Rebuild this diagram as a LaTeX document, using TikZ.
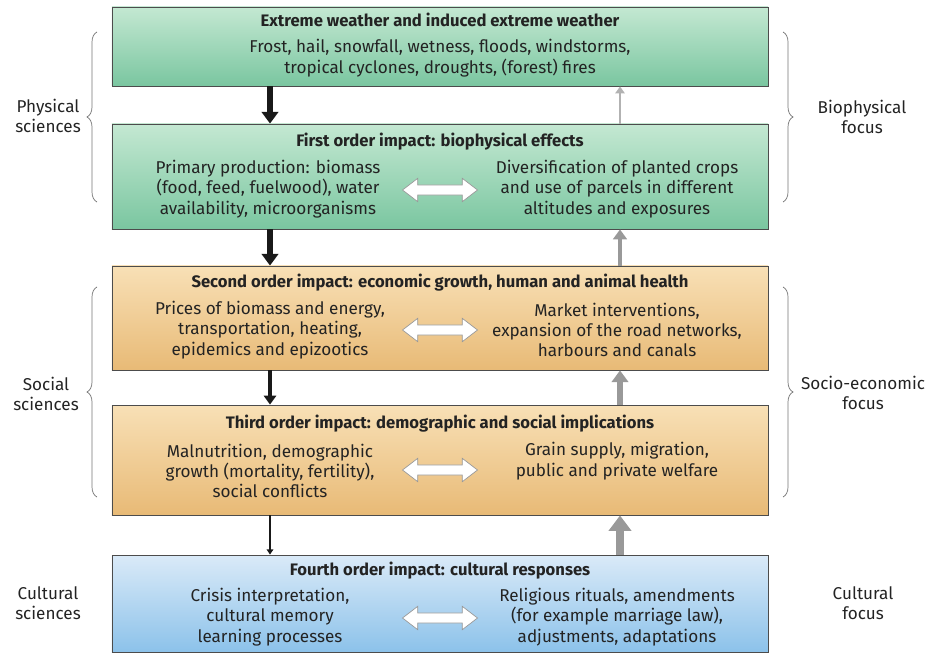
\documentclass[tikz,border=0pt]{standalone}
\usepackage{fontspec}
\setmainfont{Fira Sans}
\usetikzlibrary{arrows.meta,shapes.arrows,decorations.pathreplacing,positioning}

\definecolor{greentop}{RGB}{196,232,210}
\definecolor{greenbot}{RGB}{122,198,160}
\definecolor{orangetop}{RGB}{248,224,182}
\definecolor{orangebot}{RGB}{232,186,118}
\definecolor{bluetop}{RGB}{218,234,248}
\definecolor{bluebot}{RGB}{140,194,234}
\definecolor{textcol}{RGB}{35,35,35}

\tikzset{
  box/.style={draw=black!70, line width=0.7pt, minimum width=19.68cm, inner sep=0pt},
  greenbox/.style={box, top color=greentop, bottom color=greenbot},
  orangebox/.style={box, top color=orangetop, bottom color=orangebot},
  bluebox/.style={box, top color=bluetop, bottom color=bluebot},
  title/.style={font=\fontsize{14.2}{16}\selectfont\bfseries, text=textcol},
  body/.style={align=center, text=textcol, font=\fontsize{14.6}{17.4}\selectfont},
  side/.style={align=center, text=textcol, font=\fontsize{14.6}{17}\selectfont},
  dbl/.style={double arrow, draw=black!40, fill=white, line width=0.6pt,
    minimum height=2.25cm, inner xsep=0pt, inner ysep=0.14cm,
    double arrow head extend=0.2cm, double arrow tip angle=75},
  darr/.style={line width=#1, draw=black!90, -{Triangle[length=2pt 1.6, width=2pt 2.4]}},
  uarr/.style={line width=#1, draw=black!40, -{Triangle[length=2pt 1.6, width=2pt 2.4]}},
  bracket/.style={draw=black!55, line width=0.6pt, decorate,
    decoration={brace, amplitude=0.3cm}}
}

\begin{document}
\begin{tikzpicture}[x=0.03cm, y=-0.03cm]
  \useasboundingbox (0,0) rectangle (935,656);
  \coordinate (dl) at (270,0);
  \coordinate (ul) at (620,0);

  % boxes
  \node[greenbox, minimum height=2.37cm] (b1) at (440,46.5) {};
  \node[greenbox, minimum height=3.15cm] (b2) at (440,176.5) {};
  \node[orangebox, minimum height=3.12cm] (b3) at (440,318) {};
  \node[orangebox, minimum height=3.3cm] (b4) at (440,460) {};
  \node[bluebox, minimum height=2.91cm] (b5) at (440,603.5) {};

  % titles
  \node[title] (t1) at (440,20) {Extreme weather and induced extreme weather};
  \node[title] (t2) at (440,142) {First order impact: biophysical effects};
  \node[title] (t3) at (440,283) {Second order impact: economic growth, human and animal health};
  \node[title] (t4) at (440,424) {Third order impact: demographic and social implications};
  \node[title] (t5) at (440,571) {Fourth order impact: cultural responses};

  % body texts
  \node[body] (e1) at (440,58) {Frost, hail, snowfall, wetness, floods, windstorms,\\tropical cyclones, droughts, (forest) fires};
  \node[body] (l2) at (268,189) {Primary production: biomass\\(food, feed, fuelwood), water\\availability, microorganisms};
  \node[body] (r2) at (617,189) {Diversification of planted crops\\and use of parcels in different\\altitudes and exposures};
  \node[body] (l3) at (270,330) {Prices of biomass and energy,\\transportation, heating,\\epidemics and epizootics};
  \node[body] (r3) at (617,330) {Market interventions,\\expansion of the road networks,\\harbours and canals};
  \node[body] (l4) at (270,471) {Malnutrition, demographic\\growth (mortality, fertility),\\social conflicts};
  \node[body] (r4) at (617,461) {Grain supply, migration,\\public and private welfare};
  \node[body] (l5) at (270,617) {Crisis interpretation,\\cultural memory\\learning processes};
  \node[body] (r5) at (617,617) {Religious rituals, amendments\\(for example marriage law),\\adjustments, adaptations};

  % double arrows
  \node[dbl] (d2) at (440,190) {};
  \node[dbl] (d3) at (440,330) {};
  \node[dbl] (d4) at (440,470) {};
  \node[dbl] (d5) at (440,618) {};

  % down arrows
  \draw[darr=5pt] (b1.south -| dl) -- (b2.north -| dl);
  \draw[darr=5pt] (b2.south -| dl) -- (b3.north -| dl);
  \draw[darr=3.5pt] (b3.south -| dl) -- (b4.north -| dl);
  \draw[darr=1.5pt] (b4.south -| dl) -- (b5.north -| dl);

  % up arrows
  \draw[uarr=2.5pt, draw=black!30] (b2.north -| ul) -- (b1.south -| ul);
  \draw[uarr=4pt] (b3.north -| ul) -- (b2.south -| ul);
  \draw[uarr=5pt] (b4.north -| ul) -- (b3.south -| ul);
  \draw[uarr=7pt] (b5.north -| ul) -- (b4.south -| ul);

  % braces
  \draw[bracket] (97,202) -- (97,32);
  \draw[bracket] (97,497) -- (97,287);
  \draw[bracket] (783,32) -- (783,202);
  \draw[bracket] (783,287) -- (783,497);

  % side labels
  \node[side] (ps) at (48,116) {Physical\\sciences};
  \node[side] (ss) at (46,394) {Social\\sciences};
  \node[side] (cs) at (48,603) {Cultural\\sciences};
  \node[side] (bf) at (862,117) {Biophysical\\focus};
  \node[side] (sf) at (863,393) {Socio-economic\\focus};
  \node[side] (cf) at (863,603) {Cultural\\focus};
\end{tikzpicture}
\end{document}
